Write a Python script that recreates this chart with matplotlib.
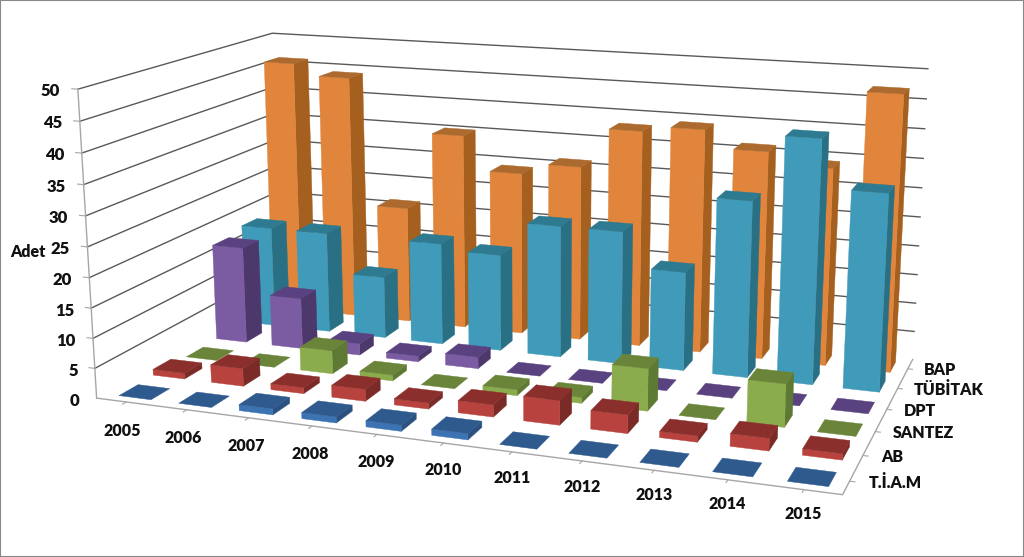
import numpy as np
import matplotlib
matplotlib.use("Agg")
import matplotlib.pyplot as plt
from matplotlib.patches import Rectangle
from mpl_toolkits.mplot3d.art3d import Poly3DCollection

years = ["2005", "2006", "2007", "2008", "2009", "2010", "2011", "2012", "2013", "2014", "2015"]
series_names = ["T.İ.A.M", "AB", "SANTEZ", "DPT", "TÜBİTAK", "BAP"]
tiam = [0, 0, 1, 1, 1, 1, 0, 0, 0, 0, 0]
ab = [1, 3, 1, 2, 1, 2, 4, 3, 1, 2, 1]
santez = [0, 0, 4, 1, 0, 1, 1, 7, 0, 7, 0]
dpt = [17, 9, 2, 1, 2, 0, 0, 0, 0, 0, 0]
tubitak = [18, 18, 11, 18, 17, 23, 23, 17, 30, 41, 33]
bap = [46, 44, 21, 35, 29, 31, 38, 39, 36, 34, 47]
z_ticks = [0, 5, 10, 15, 20, 25, 30, 35, 40, 45, 50]
series_values = [tiam, ab, santez, dpt, tubitak, bap]

# (front, side, top) shades per series
shades = [
    ("#3B73B3", "#2A5180", "#2F5A8E"),
    ("#B8433E", "#7A2A27", "#8B2F2C"),
    ("#8BAC4C", "#5E7933", "#6A8439"),
    ("#7B5BA1", "#4D386C", "#5A4280"),
    ("#3F9BB9", "#2A7085", "#2E7A90"),
    ("#E0853B", "#A5601F", "#AC6A2E"),
]

W, H = 1024, 557
fig = plt.figure(figsize=(W / 100, H / 100), dpi=100)
ax = fig.add_axes([0, 0, 1, 1], projection="3d")
ax.set_axis_off()
ax.set_xticks([])
ax.set_yticks([])
ax.set_zticks([])
ax.computed_zorder = False
ax.patch.set_alpha(0)

NX, NY, ZMAX = len(years), len(series_names), z_ticks[-1]

# Camera calibration: box corners (category, series, value) -> pixel position in the picture
world = np.array([
    [0, 0, 0], [NX, 0, 0], [NX, NY, 0], [0, NY, 0],
    [0, 0, ZMAX], [0, NY, ZMAX], [NX, NY, ZMAX]], float)
pixels = np.array([
    [97, 399], [842, 495], [913, 359], [281, 293],
    [78, 88], [272, 34], [928, 69]], float)

wn = world / np.array([NX, NY, ZMAX])
pn = np.column_stack([pixels[:, 0], H - pixels[:, 1]]) / 1000
A = []
for (X, Y, Z), (u, v) in zip(wn, pn):
    A.append([X, Y, Z, 1, 0, 0, 0, 0, -u * X, -u * Y, -u * Z, -u])
    A.append([0, 0, 0, 0, X, Y, Z, 1, -v * X, -v * Y, -v * Z, -v])
P = np.linalg.svd(np.array(A))[2][-1].reshape(3, 4)
P = np.diag([1000, 1000, 1.0]) @ P @ np.diag([1 / NX, 1 / NY, 1 / ZMAX, 1])
P = P / P[2, 3]
centre = np.linalg.svd(P)[2][-1]


def get_proj():
    inv = np.linalg.inv(ax.transData.get_matrix())
    Q = inv @ P
    return np.array([Q[0], Q[1], centre, Q[2]])


ax.get_proj = get_proj


def label(x, y, z, s, ha, size, dy=0.0):
    """Place flat text at the projected position of a 3D point (dy in pixels, up)."""
    u, v, w = P @ np.array([x, y, z, 1.0])
    fig.text(u / w / W, (v / w + dy) / H, s, ha=ha, va="center", fontsize=size,
             fontweight="heavy", family="Lato", color="#111111")


GRID = "#595959"
AXIS = "#A6A6A6"
for z in z_ticks:
    ax.plot([0, 0, NX], [0, NY, NY], [z, z, z], color=GRID, lw=1.0, zorder=1, clip_on=False)
    ax.plot([0, -0.1], [0, 0], [z, z], color=AXIS, lw=0.8, zorder=1, clip_on=False)
    label(-0.16, -0.2, z, str(z), "right", 12)

ax.plot([0, 0], [0, 0], [0, ZMAX], color=AXIS, lw=1, zorder=1, clip_on=False)
ax.plot([0, NX, NX], [0, 0, NY], [0, 0, 0], color=AXIS, lw=1, zorder=1, clip_on=False)

for i, yr in enumerate(years):
    ax.plot([i + 0.5, i + 0.5], [0, -0.1], [0, 0], color=AXIS, lw=0.8, zorder=1, clip_on=False)
    label(i + 0.45 + 0.684 - 0.047 * i, -0.85 - 0.307 + 0.03 * i, 0, yr, "center", 11.5, dy=2)
for j, name in enumerate(series_names):
    ax.plot([NX, NX + 0.07], [j + 0.5, j + 0.5], [0, 0], color=AXIS, lw=0.8, zorder=1, clip_on=False)
    label(NX + 0.24, j + 0.52, 0, name, "left", 11.5)

BW = 0.27  # half width of bar along categories
BD = 0.27  # half depth of bar along series
order = 2
for j in range(NY - 1, -1, -1):
    front, side, top = shades[j]
    for i in range(NX):
        v = series_values[j][i]
        x0, x1 = i + 0.5 - BW, i + 0.5 + BW
        y0, y1 = j + 0.5 - BD, j + 0.5 + BD
        faces = [[(x0, y0, v), (x1, y0, v), (x1, y1, v), (x0, y1, v)]]
        cols = [top]
        if v > 0:
            faces.append([(x0, y0, 0), (x1, y0, 0), (x1, y0, v), (x0, y0, v)])
            cols.append(front)
            faces.append([(x1, y0, 0), (x1, y1, 0), (x1, y1, v), (x1, y0, v)])
            cols.append(side)
        pc = Poly3DCollection(faces, facecolors=cols, edgecolors=cols, linewidths=0.3, zorder=order)
        pc.set_clip_on(False)
        ax.add_collection3d(pc)
        order += 1

fig.text(28 / W, 1 - 252 / H, "Adet", ha="center", va="center", fontsize=11.5,
         fontweight="heavy", family="Lato", color="#111111")
fig.add_artist(Rectangle((0, 0), 1, 1, transform=fig.transFigure, fill=False,
                         edgecolor="#888888", lw=1.5))
fig.savefig("out.png", dpi=100)
